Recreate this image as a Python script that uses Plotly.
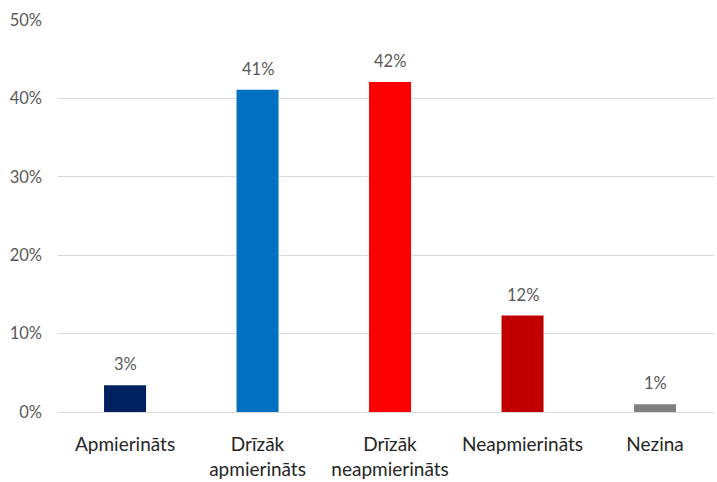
import plotly.graph_objects as go

categories = ["Apmierināts", "Drīzāk<br>apmierināts", "Drīzāk<br>neapmierināts", "Neapmierināts", "Nezina"]
values = [3.4, 41.1, 42.1, 12.3, 1.0]
labels = ["3%", "41%", "42%", "12%", "1%"]
colors = ["#002060", "#0070C0", "#FF0000", "#C00000", "#808080"]
y_ticks = [0, 10, 20, 30, 40, 50]
y_tick_labels = ["0%", "10%", "20%", "30%", "40%", "50%"]

x_idx = list(range(len(categories)))

fig = go.Figure()
fig.add_trace(go.Bar(
    x=x_idx, y=values, width=0.317,
    marker=dict(color=colors, line=dict(width=0)),
    hoverinfo="skip",
))

for xi, v, t in zip(x_idx, values, labels):
    fig.add_annotation(
        x=xi, y=v, text=t, showarrow=False,
        yanchor="bottom", yshift=9,
        font=dict(family="Lato", size=16.5, color="#595959"),
    )

fig.update_layout(
    width=717, height=482,
    margin=dict(l=58, r=3, t=20, b=70, pad=0),
    paper_bgcolor="white", plot_bgcolor="white",
    showlegend=False,
    font=dict(family="Lato"),
    xaxis=dict(
        range=[-0.506, 4.445],
        tickmode="array", tickvals=x_idx, ticktext=categories,
        tickfont=dict(family="Lato", size=19, color="#262626"),
        showgrid=False, zeroline=False, showline=False,
        ticks="", ticklabelstandoff=19,
    ),
    yaxis=dict(
        range=[0, 50],
        tickmode="array", tickvals=y_ticks, ticktext=y_tick_labels,
        tickfont=dict(family="Lato", size=16.5, color="#595959"),
        showgrid=True, gridcolor="#D9D9D9", gridwidth=1,
        zeroline=True, zerolinecolor="#D9D9D9", zerolinewidth=1,
        showline=False, ticks="", ticklabelstandoff=15,
    ),
)

fig.write_html("out.html", config={"displayModeBar": False},
               post_script="document.body.style.margin='0';")
